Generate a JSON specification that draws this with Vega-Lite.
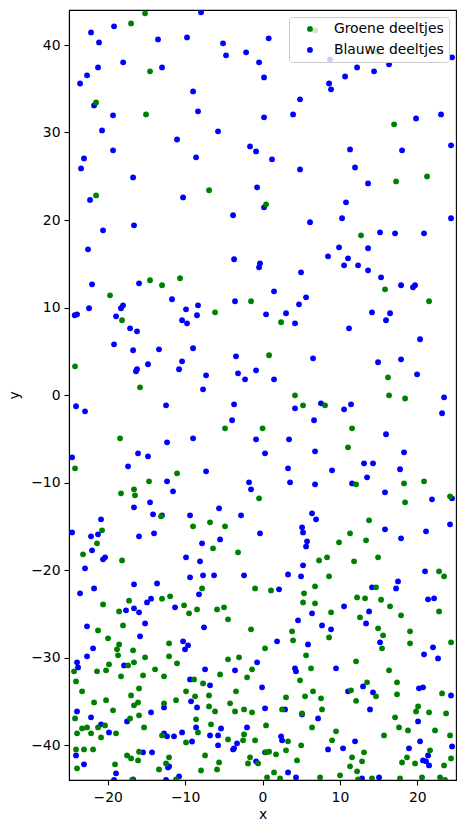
{"$schema":"https://vega.github.io/schema/vega-lite/v6.json","width":387,"height":770,"autosize":"none","padding":{"left":69,"top":10,"right":10,"bottom":53},"background":"white","config":{"view":{"stroke":"black","strokeWidth":1.1},"font":"DejaVu Sans"},
"datasets":{"blue":[{"x":-22.15,"y":41.44},{"x":-19.18,"y":42.13},{"x":-21.12,"y":40.3},{"x":-13.5,"y":40.64},{"x":-9.75,"y":40.87},{"x":-7.94,"y":43.73},{"x":-5.1,"y":40.19},{"x":-4.71,"y":38.82},{"x":-2.12,"y":39.16},{"x":-0.44,"y":38.02},{"x":0.2,"y":36.3},{"x":0.8,"y":40.76},{"x":-18,"y":38.02},{"x":-21.25,"y":37.44},{"x":-12.98,"y":37.44},{"x":-22.67,"y":36.53},{"x":-23.57,"y":35.6},{"x":-8.97,"y":34.7},{"x":-21.76,"y":33.1},{"x":-8.33,"y":32.42},{"x":-19.31,"y":31.96},{"x":0.2,"y":31.73},{"x":-20.73,"y":30.24},{"x":-5.74,"y":30.13},{"x":-11.04,"y":29.2},{"x":-1.61,"y":28.41},{"x":-0.83,"y":27.84},{"x":-19.31,"y":27.96},{"x":-8.58,"y":27.16},{"x":-23.06,"y":27.04},{"x":-23.44,"y":25.9},{"x":-16.72,"y":24.87},{"x":-0.7,"y":23.73},{"x":-10.26,"y":22.58},{"x":-22.28,"y":22.3},{"x":24.49,"y":38.59},{"x":8.73,"y":38.36},{"x":12.22,"y":37.44},{"x":14.41,"y":36.99},{"x":16.35,"y":37.79},{"x":10.67,"y":36.4},{"x":8.6,"y":35.6},{"x":8.86,"y":34.93},{"x":4.85,"y":33.79},{"x":3.95,"y":32.07},{"x":19.84,"y":31.61},{"x":23.07,"y":32.07},{"x":24.36,"y":28.53},{"x":11.31,"y":28.07},{"x":18.03,"y":27.96},{"x":1.23,"y":26.93},{"x":4.85,"y":25.78},{"x":11.96,"y":26.01},{"x":13.64,"y":24.18},{"x":-3.8,"y":20.54},{"x":0.2,"y":21.45},{"x":-16.6,"y":19.39},{"x":-20.6,"y":18.82},{"x":-22.54,"y":16.65},{"x":-3.67,"y":15.51},{"x":-0.32,"y":15.05},{"x":-0.44,"y":14.59},{"x":-22.02,"y":12.65},{"x":-15.95,"y":12.76},{"x":-11.69,"y":10.94},{"x":-3.55,"y":10.71},{"x":-18.02,"y":10.25},{"x":-18.28,"y":9.91},{"x":-22.41,"y":9.91},{"x":-9.88,"y":9.79},{"x":-8.33,"y":10.25},{"x":-8.46,"y":9.11},{"x":-23.96,"y":9.22},{"x":-24.26,"y":9.11},{"x":-18.92,"y":8.99},{"x":-10.39,"y":8.54},{"x":-9.75,"y":8.19},{"x":0.46,"y":9.22},{"x":-17.11,"y":7.62},{"x":-16.21,"y":7.28},{"x":-19.18,"y":5.79},{"x":-16.72,"y":5.11},{"x":-13.37,"y":5.22},{"x":-8.97,"y":5.34},{"x":-3.42,"y":4.42},{"x":-10.39,"y":3.85},{"x":-14.79,"y":3.51},{"x":-16.21,"y":2.94},{"x":-16.34,"y":2.71},{"x":-10.78,"y":2.94},{"x":-7.29,"y":2.25},{"x":-3.16,"y":2.48},{"x":-0.83,"y":2.82},{"x":-2.25,"y":1.79},{"x":-7.68,"y":0.65},{"x":10.79,"y":22.02},{"x":24.36,"y":20.2},{"x":10.28,"y":20.2},{"x":6.14,"y":19.74},{"x":15.19,"y":18.59},{"x":17.13,"y":18.48},{"x":20.87,"y":18.48},{"x":9.89,"y":16.88},{"x":13.64,"y":16.77},{"x":8.47,"y":15.85},{"x":11.05,"y":15.62},{"x":10.54,"y":14.82},{"x":12.35,"y":14.82},{"x":13.64,"y":14.25},{"x":4.98,"y":14.02},{"x":15.32,"y":13.45},{"x":17.9,"y":12.54},{"x":19.71,"y":12.54},{"x":19.45,"y":12.31},{"x":1.49,"y":11.85},{"x":5.63,"y":11.16},{"x":4.72,"y":10.36},{"x":3.04,"y":9.34},{"x":14.15,"y":9.45},{"x":16.48,"y":9.34},{"x":15.96,"y":8.54},{"x":4.2,"y":8.19},{"x":11.18,"y":7.62},{"x":20.36,"y":6.37},{"x":6.53,"y":4.19},{"x":14.93,"y":3.74},{"x":17.9,"y":4.08},{"x":19.97,"y":2.36},{"x":1.49,"y":1.79},{"x":23.46,"y":-0.27},{"x":-24.09,"y":-1.29},{"x":-22.93,"y":-1.87},{"x":-12.46,"y":-1.18},{"x":-3.67,"y":-1.07},{"x":-3.93,"y":-2.89},{"x":-12.33,"y":-5.41},{"x":-8.97,"y":-4.95},{"x":-0.83,"y":-5.07},{"x":0.33,"y":-6.67},{"x":-16.08,"y":-6.67},{"x":-14.79,"y":-7.01},{"x":-24.6,"y":-7.12},{"x":-17.37,"y":-8.15},{"x":-7.29,"y":-8.72},{"x":-12.33,"y":-9.87},{"x":-1.74,"y":-9.98},{"x":-1.48,"y":-10.78},{"x":-11.56,"y":-11.01},{"x":-14.53,"y":-12.27},{"x":-16.6,"y":-12.84},{"x":-5.61,"y":-12.95},{"x":-14.14,"y":-13.64},{"x":-12.98,"y":-13.75},{"x":-9.36,"y":-13.75},{"x":-2.77,"y":-13.75},{"x":-20.86,"y":-14.21},{"x":-24.6,"y":-15.7},{"x":-14.01,"y":-15.81},{"x":-0.32,"y":-15.81},{"x":-21.25,"y":-15.92},{"x":-22.15,"y":-16.15},{"x":-15.95,"y":-16.15},{"x":-5.48,"y":-16.5},{"x":-7.81,"y":-16.95},{"x":-22.02,"y":-17.75},{"x":-9.88,"y":-18.55},{"x":-20.34,"y":-18.55},{"x":-20.6,"y":-18.78},{"x":-8.07,"y":-19.01},{"x":-22.93,"y":-19.81},{"x":-7.68,"y":-20.61},{"x":-6.26,"y":-20.61},{"x":-2.38,"y":-20.61},{"x":-9.36,"y":-20.84},{"x":-13.62,"y":-21.53},{"x":-16.6,"y":-21.64},{"x":-21.76,"y":-22.1},{"x":-23.57,"y":-22.67},{"x":-8.2,"y":-22.78},{"x":-14.4,"y":-23.28},{"x":4.2,"y":-1.52},{"x":7.56,"y":-0.95},{"x":10.54,"y":-1.64},{"x":11.44,"y":-1.07},{"x":23.2,"y":-2.09},{"x":6.66,"y":-2.89},{"x":15.96,"y":-4.49},{"x":3.43,"y":-5.07},{"x":6.79,"y":-6.44},{"x":18.29,"y":-6.55},{"x":13.12,"y":-7.81},{"x":14.28,"y":-7.81},{"x":3.3,"y":-8.38},{"x":8.99,"y":-8.61},{"x":17.77,"y":-8.49},{"x":13.51,"y":-9.41},{"x":3.56,"y":-9.98},{"x":6.79,"y":-10.21},{"x":11.57,"y":-10.1},{"x":15.83,"y":-11.12},{"x":21.9,"y":-11.92},{"x":24.49,"y":-11.81},{"x":6.4,"y":-13.52},{"x":6.92,"y":-14.21},{"x":5.11,"y":-15.12},{"x":5.24,"y":-15.7},{"x":15.83,"y":-15.35},{"x":21.13,"y":-15.58},{"x":24.23,"y":-14.78},{"x":17.9,"y":-16.38},{"x":5.76,"y":-16.72},{"x":5.63,"y":-17.3},{"x":5.24,"y":-19.47},{"x":21,"y":-20.15},{"x":3.3,"y":-20.5},{"x":4.98,"y":-20.72},{"x":17.51,"y":-21.3},{"x":14.15,"y":-21.98},{"x":17.26,"y":-22.1},{"x":2.14,"y":-22.21},{"x":21.39,"y":-23.35},{"x":22.17,"y":-23.24},{"x":-14.92,"y":-23.7},{"x":-11.3,"y":-24.27},{"x":-17.63,"y":-24.61},{"x":-16.6,"y":-24.38},{"x":-15.95,"y":-24.84},{"x":-22.67,"y":-26.44},{"x":-15.17,"y":-26.1},{"x":-7.55,"y":-26.55},{"x":-15.82,"y":-27.58},{"x":-10.26,"y":-28.15},{"x":-9.62,"y":-28.61},{"x":-10.01,"y":-29.07},{"x":-21.89,"y":-28.95},{"x":-22.67,"y":-29.87},{"x":-23.96,"y":-30.55},{"x":-23.83,"y":-31.13},{"x":-0.7,"y":-30.55},{"x":-17.89,"y":-30.9},{"x":-7.42,"y":-31.35},{"x":-3.55,"y":-31.47},{"x":-9.36,"y":-32.5},{"x":-6.78,"y":-33.18},{"x":-0.06,"y":-33.41},{"x":-9.23,"y":-35.01},{"x":-23.96,"y":-36.16},{"x":-12.72,"y":-35.7},{"x":-8.46,"y":-35.7},{"x":-14.4,"y":-36.27},{"x":0.33,"y":-35.81},{"x":-22.15,"y":-36.84},{"x":-17.5,"y":-37.3},{"x":-20.86,"y":-37.64},{"x":-8.58,"y":-37.99},{"x":-5.36,"y":-38.1},{"x":-2,"y":-37.99},{"x":-19.83,"y":-38.56},{"x":-10.39,"y":-38.56},{"x":-12.72,"y":-38.67},{"x":-12.33,"y":-39.01},{"x":-11.43,"y":-39.01},{"x":-6.78,"y":-38.9},{"x":-5.74,"y":-38.9},{"x":-9.1,"y":-39.6},{"x":-3.29,"y":-39.81},{"x":-5.74,"y":-40.04},{"x":-3.67,"y":-40.38},{"x":-3.8,"y":-40.5},{"x":-15.43,"y":-40.84},{"x":-14.27,"y":-40.84},{"x":0.33,"y":-40.84},{"x":-24.09,"y":-41.19},{"x":-23.06,"y":-42.21},{"x":-0.83,"y":-41.87},{"x":-12.07,"y":-42.44},{"x":-12.2,"y":-42.56},{"x":-18.92,"y":-43.24},{"x":-10.78,"y":-43.59},{"x":-19.18,"y":-44},{"x":-16.72,"y":-43.93},{"x":-12.46,"y":-44},{"x":10.54,"y":-24.15},{"x":6.4,"y":-24.95},{"x":13.77,"y":-24.73},{"x":4.59,"y":-25.75},{"x":13.38,"y":-26.1},{"x":7.69,"y":-26.33},{"x":8.86,"y":-26.78},{"x":1.88,"y":-28.15},{"x":5.88,"y":-28.5},{"x":15.19,"y":-28.27},{"x":22.03,"y":-28.84},{"x":20.87,"y":-29.64},{"x":22.68,"y":-30.1},{"x":4.2,"y":-31.24},{"x":4.33,"y":-31.58},{"x":9.5,"y":-31.24},{"x":12.99,"y":-33.3},{"x":11.05,"y":-33.87},{"x":14.28,"y":-33.98},{"x":20.22,"y":-33.52},{"x":20.74,"y":-33.41},{"x":24.36,"y":-34.33},{"x":2.91,"y":-35.93},{"x":5.11,"y":-36.5},{"x":13.89,"y":-35.93},{"x":7.18,"y":-36.96},{"x":20.1,"y":-37.3},{"x":2.4,"y":-39.01},{"x":2.53,"y":-39.47},{"x":11.96,"y":-39.58},{"x":20.36,"y":-39.58},{"x":24.49,"y":-40.16},{"x":8.47,"y":-40.5},{"x":10.41,"y":-40.38},{"x":18.93,"y":-40.38},{"x":21.39,"y":-41.19},{"x":20.74,"y":-41.76},{"x":21.13,"y":-41.87},{"x":21.52,"y":-42.33},{"x":3.3,"y":-43.13},{"x":4.33,"y":-43.7},{"x":12.86,"y":-43.82},{"x":15.06,"y":-43.7}],
"green":[{"x":-15.17,"y":43.62},{"x":-16.98,"y":42.47},{"x":-14.53,"y":36.99},{"x":-21.5,"y":33.44},{"x":-15.05,"y":32.07},{"x":-6.9,"y":23.4},{"x":-21.5,"y":22.81},{"x":17,"y":30.93},{"x":17.26,"y":24.41},{"x":21.26,"y":24.98},{"x":6.79,"y":41.67},{"x":14.8,"y":39.16},{"x":0.46,"y":21.79},{"x":-14.53,"y":13.11},{"x":-12.98,"y":12.54},{"x":-10.65,"y":13.34},{"x":-19.7,"y":11.39},{"x":-1.48,"y":10.71},{"x":-6.13,"y":9.45},{"x":-18.15,"y":8.54},{"x":0.85,"y":4.54},{"x":-24.22,"y":3.28},{"x":-15.82,"y":0.88},{"x":12.73,"y":18.25},{"x":15.83,"y":12.08},{"x":21.52,"y":10.71},{"x":2.4,"y":8.31},{"x":16.22,"y":2.02},{"x":4.2,"y":-0.04},{"x":16.35,"y":-0.04},{"x":18.42,"y":-0.4},{"x":-18.4,"y":-4.95},{"x":-4.84,"y":-3.81},{"x":0.01,"y":-3.81},{"x":-24.22,"y":-8.38},{"x":-11.04,"y":-8.95},{"x":-14.66,"y":-9.87},{"x":-16.6,"y":-10.78},{"x":-18.28,"y":-11.24},{"x":-16.47,"y":-11.47},{"x":-0.44,"y":-11.81},{"x":-13.11,"y":-13.87},{"x":-6.78,"y":-14.55},{"x":-8.97,"y":-15.01},{"x":-4.84,"y":-15.01},{"x":-20.73,"y":-15.47},{"x":-21.38,"y":-16.95},{"x":-6.39,"y":-17.52},{"x":-3.16,"y":-17.98},{"x":-23.19,"y":-18.21},{"x":-18.15,"y":-18.9},{"x":-7.81,"y":-22.1},{"x":-0.96,"y":-22.1},{"x":1.1,"y":-22.33},{"x":-11.94,"y":-23.01},{"x":-12.98,"y":-23.28},{"x":-17.24,"y":-23.5},{"x":5.24,"y":-1.18},{"x":8.08,"y":-1.18},{"x":11.57,"y":-3.81},{"x":11.05,"y":-5.98},{"x":12.09,"y":-10.21},{"x":18.29,"y":-10.1},{"x":20.87,"y":-9.87},{"x":24.23,"y":-11.58},{"x":18.42,"y":-12.27},{"x":13.77,"y":-14.32},{"x":11.31,"y":-15.81},{"x":13.38,"y":-16.61},{"x":9.89,"y":-16.84},{"x":8.34,"y":-18.55},{"x":7.31,"y":-18.9},{"x":14.93,"y":-18.55},{"x":11.83,"y":-19.01},{"x":22.81,"y":-20.15},{"x":23.46,"y":-20.72},{"x":8.6,"y":-20.72},{"x":6.79,"y":-21.87},{"x":14.67,"y":-21.98},{"x":5.37,"y":-22.67},{"x":12.22,"y":-23.13},{"x":13.25,"y":-23.24},{"x":15.32,"y":-23.4},{"x":-20.6,"y":-23.93},{"x":-18.53,"y":-24.73},{"x":-10.13,"y":-24.04},{"x":-9.49,"y":-24.95},{"x":-8.46,"y":-24.5},{"x":-5.87,"y":-24.5},{"x":-4.97,"y":-24.27},{"x":-4.45,"y":-25.64},{"x":-18.02,"y":-26.33},{"x":-1.48,"y":-26.78},{"x":-21.25,"y":-26.9},{"x":-19.95,"y":-27.81},{"x":-18.53,"y":-28.5},{"x":-12.07,"y":-28.38},{"x":-18.79,"y":-29.07},{"x":-16.72,"y":-29.18},{"x":0.33,"y":-28.95},{"x":-18.66,"y":-29.75},{"x":-15.17,"y":-29.98},{"x":-12.07,"y":-29.87},{"x":-4.45,"y":-30.21},{"x":-3.03,"y":-29.98},{"x":-19.83,"y":-30.78},{"x":-16.6,"y":-30.55},{"x":-11.04,"y":-30.67},{"x":-17.37,"y":-30.9},{"x":-24.35,"y":-31.58},{"x":-21.38,"y":-31.58},{"x":-20.21,"y":-31.47},{"x":-13.88,"y":-31.35},{"x":-1.35,"y":-31.35},{"x":-18.28,"y":-32.15},{"x":-15.43,"y":-32.04},{"x":-12.72,"y":-32.15},{"x":-5.48,"y":-31.93},{"x":-1.99,"y":-32.27},{"x":-8.84,"y":-32.5},{"x":-24.09,"y":-32.73},{"x":-7.68,"y":-32.96},{"x":-15.95,"y":-33.53},{"x":-23.31,"y":-33.87},{"x":-9.88,"y":-33.87},{"x":-3.42,"y":-33.87},{"x":-16.98,"y":-34.33},{"x":-8.71,"y":-34.44},{"x":-6.91,"y":-34.33},{"x":-20.21,"y":-34.88},{"x":-11.17,"y":-34.88},{"x":-21.76,"y":-35.13},{"x":-16.08,"y":-35.13},{"x":-16.6,"y":-35.47},{"x":-12.72,"y":-35.24},{"x":-4.19,"y":-35.24},{"x":-6.91,"y":-35.59},{"x":-19.31,"y":-36.04},{"x":-6.13,"y":-36.16},{"x":-3.55,"y":-36.16},{"x":-2.38,"y":-35.93},{"x":-1.35,"y":-36.27},{"x":-15.95,"y":-36.61},{"x":-24.22,"y":-36.96},{"x":-17.11,"y":-36.96},{"x":-8.58,"y":-37.07},{"x":-6.65,"y":-37.64},{"x":-20.34,"y":-37.76},{"x":-21.25,"y":-37.99},{"x":-22.67,"y":-37.99},{"x":-23.31,"y":-38.1},{"x":-15.3,"y":-37.99},{"x":0.46,"y":-37.76},{"x":-23.96,"y":-38.67},{"x":-22.15,"y":-38.67},{"x":-18.92,"y":-38.67},{"x":-8.33,"y":-38.56},{"x":-2.38,"y":-38.79},{"x":-20.86,"y":-39.13},{"x":-12.98,"y":-38.9},{"x":-4.45,"y":-39.36},{"x":-2.51,"y":-39.47},{"x":-0.96,"y":-39.47},{"x":-9.88,"y":-39.7},{"x":-24.09,"y":-40.5},{"x":-23.06,"y":-40.5},{"x":-21.89,"y":-40.5},{"x":-15.95,"y":-40.77},{"x":0.46,"y":-40.84},{"x":0.85,"y":-40.77},{"x":-17.5,"y":-41.19},{"x":-16.98,"y":-41.53},{"x":-16.08,"y":-41.76},{"x":-7.42,"y":-41.19},{"x":-12.07,"y":-41.41},{"x":-1.61,"y":-41.41},{"x":-12.46,"y":-42.1},{"x":-19.05,"y":-42.21},{"x":-5.61,"y":-41.99},{"x":-1.87,"y":-42.1},{"x":-0.57,"y":-42.1},{"x":-23.96,"y":-42.67},{"x":-13.37,"y":-42.79},{"x":-7.94,"y":-42.9},{"x":-5.87,"y":-42.79},{"x":0.59,"y":-43.7},{"x":-11.17,"y":-43.93},{"x":-16.85,"y":-44},{"x":5.24,"y":-23.7},{"x":6.79,"y":-23.81},{"x":16.48,"y":-24.15},{"x":8.86,"y":-24.84},{"x":17.9,"y":-25.18},{"x":22.81,"y":-24.73},{"x":12.6,"y":-25.41},{"x":14.93,"y":-26.67},{"x":3.82,"y":-27.01},{"x":19.06,"y":-27.01},{"x":15.58,"y":-27.47},{"x":8.6,"y":-27.7},{"x":3.95,"y":-28.04},{"x":19.06,"y":-28.38},{"x":24.36,"y":-28.27},{"x":15.44,"y":-28.95},{"x":5.63,"y":-29.75},{"x":12.09,"y":-30.44},{"x":6.27,"y":-31.24},{"x":16.35,"y":-31.47},{"x":4.85,"y":-32.61},{"x":13.51,"y":-32.84},{"x":17.38,"y":-32.84},{"x":6.53,"y":-33.87},{"x":11.44,"y":-33.75},{"x":3.04,"y":-34.55},{"x":5.5,"y":-34.44},{"x":7.56,"y":-34.67},{"x":14.67,"y":-34.44},{"x":17.38,"y":-34.21},{"x":23.2,"y":-34.1},{"x":12.09,"y":-34.95},{"x":2.53,"y":-35.93},{"x":7.69,"y":-35.93},{"x":5.11,"y":-36.39},{"x":20.1,"y":-35.59},{"x":19.84,"y":-36.16},{"x":21.52,"y":-36.27},{"x":23.72,"y":-36.39},{"x":17.13,"y":-36.84},{"x":6.4,"y":-37.99},{"x":17.64,"y":-37.99},{"x":18.8,"y":-38.33},{"x":22.29,"y":-38.33},{"x":9.5,"y":-38.44},{"x":15.7,"y":-38.9},{"x":24.23,"y":-38.9},{"x":8.99,"y":-39.47},{"x":3.3,"y":-39.58},{"x":5,"y":-40.04},{"x":21.65,"y":-40.61},{"x":13.12,"y":-40.84},{"x":1.75,"y":-41.07},{"x":3.04,"y":-40.61},{"x":11.57,"y":-41.41},{"x":18.67,"y":-41.41},{"x":24.36,"y":-41.53},{"x":4.46,"y":-41.76},{"x":12.86,"y":-41.87},{"x":18.03,"y":-41.99},{"x":19.71,"y":-42.1},{"x":11.31,"y":-42.44},{"x":23.46,"y":-42.33},{"x":12.22,"y":-43.01},{"x":1.49,"y":-43.13},{"x":2.27,"y":-43.82},{"x":7.44,"y":-43.7},{"x":10.02,"y":-43.47},{"x":14.15,"y":-43.82},{"x":17.77,"y":-43.82},{"x":20.61,"y":-43.7},{"x":22.94,"y":-43.7},{"x":12.34,"y":-43.93},{"x":23.58,"y":-44}]},
"layer":[
{"data":{"name":"blue"},"mark":{"type":"point","filled":true,"size":34,"opacity":1,"clip":true,"strokeWidth":0},"encoding":{"x":{"field":"x","type":"quantitative"},"y":{"field":"y","type":"quantitative"},"color":{"datum":"Blauwe deeltjes"}}},
{"data":{"name":"green"},"mark":{"type":"point","filled":true,"size":34,"opacity":1,"clip":true,"strokeWidth":0},"encoding":{"x":{"field":"x","type":"quantitative","scale":{"domain":[-25,25],"nice":false,"zero":false},"axis":{"values":[-20,-10,0,10,20],"grid":false,"title":"x","titleFont":"DejaVu Sans","titleFontWeight":"normal","titleFontSize":13.9,"titleColor":"black","titlePadding":4,"labelFont":"DejaVu Sans","labelFontSize":13.9,"labelColor":"black","tickColor":"black","tickSize":5,"tickWidth":1.1,"domainColor":"black","domainWidth":1.1,"labelPadding":5}},"y":{"field":"y","type":"quantitative","scale":{"domain":[-44,44],"nice":false,"zero":false},"axis":{"values":[-40,-30,-20,-10,0,10,20,30,40],"grid":false,"title":"y","titleFont":"DejaVu Sans","titleFontWeight":"normal","titleFontSize":13.9,"titleColor":"black","titlePadding":9,"labelFont":"DejaVu Sans","labelFontSize":13.9,"labelColor":"black","tickColor":"black","tickSize":5,"tickWidth":1.1,"domainColor":"black","domainWidth":1.1,"labelPadding":4}},"color":{"datum":"Groene deeltjes","scale":{"domain":["Groene deeltjes","Blauwe deeltjes"],"range":["green","blue"]},"legend":{"title":null,"orient":"none","legendX":220,"legendY":7,"zindex":1,"fillColor":"rgba(255,255,255,0.8)","strokeColor":"#cccccc","cornerRadius":3,"padding":5,"symbolType":"circle","symbolSize":34,"symbolStrokeWidth":0,"symbolOffset":9,"labelFont":"DejaVu Sans","labelFontSize":13.9,"labelColor":"black","labelOffset":17,"rowPadding":6,"symbolOpacity":1}}}}
]}
